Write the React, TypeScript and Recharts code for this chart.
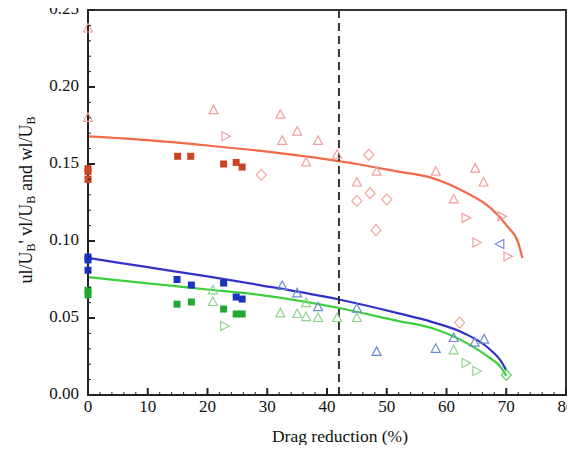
import { ComposedChart, Line, Scatter, XAxis, YAxis, ReferenceLine, ReferenceArea } from "recharts";

// fitted curves
const uFitX = [0, 10, 20, 30, 40, 45, 52, 57.5, 63, 67.5, 70.3, 72, 72.7];
const uFitY = [0.168, 0.1655, 0.162, 0.158, 0.153, 0.15, 0.145, 0.141, 0.132, 0.121, 0.109, 0.099, 0.089];
const vFitX = [0, 10, 20, 28.7, 42, 52, 57.5, 63, 67, 69.2, 70];
const vFitY = [0.089, 0.083, 0.077, 0.0714, 0.062, 0.053, 0.0475, 0.04, 0.0305, 0.0215, 0.016];
const wFitX = [0, 10, 20, 28.7, 42, 52, 57.5, 63, 67, 69.2, 70];
const wFitY = [0.0766, 0.0725, 0.0685, 0.065, 0.0565, 0.048, 0.0435, 0.0345, 0.0247, 0.0175, 0.0123];

// u' markers
const uSqX = [0, 0, 0, 15, 17.2, 22.7, 24.8, 25.8];
const uSqY = [0.147, 0.145, 0.14, 0.155, 0.155, 0.15, 0.151, 0.148];
const uTriX = [0, 0, 21, 32.2, 35, 32.5, 38.5, 36.5, 41.7, 45, 48.3, 58.2, 64.8, 66.2, 61.2];
const uTriY = [0.238, 0.18, 0.185, 0.182, 0.171, 0.165, 0.165, 0.151, 0.156, 0.138, 0.145, 0.145, 0.147, 0.138, 0.127];
const uDiaX = [29, 47, 45, 47.2, 50, 48.2, 62.2];
const uDiaY = [0.143, 0.156, 0.126, 0.131, 0.127, 0.107, 0.047];
const uRtX = [23, 63.2, 65, 70.2, 69.2];
const uRtY = [0.168, 0.115, 0.099, 0.09, 0.116];

// v' markers
const vSqX = [0, 0, 0, 14.9, 17.3, 22.7, 24.8, 25.8];
const vSqY = [0.0896, 0.0877, 0.081, 0.075, 0.0714, 0.0727, 0.0636, 0.0623];
const vTriX = [32.5, 35, 38.5, 45, 48.3, 58.2, 61.2, 66.3, 64.7];
const vTriY = [0.0708, 0.066, 0.057, 0.056, 0.028, 0.03, 0.037, 0.036, 0.034];
const vLtX = [69];
const vLtY = [0.098];

// w' markers
const wSqX = [0, 0, 14.9, 17.3, 22.7, 24.8, 25.8];
const wSqY = [0.068, 0.065, 0.059, 0.0604, 0.0558, 0.0526, 0.0526];
const wTriX = [20.9, 20.9, 32.2, 35, 36.5, 36.5, 38.5, 41.7, 45, 61.2];
const wTriY = [0.068, 0.0604, 0.053, 0.0526, 0.0506, 0.0597, 0.05, 0.05, 0.05, 0.029];
const wRtX = [22.8, 63.2, 65];
const wRtY = [0.0448, 0.0208, 0.0156];
const wDiaX = [70];
const wDiaY = [0.013];

const xMajor = [0, 10, 20, 30, 40, 50, 60, 70, 80];
const yMajor = ["0.00", "0.05", "0.10", "0.15", "0.20", "0.25"];

const xTicks = Array.from({ length: 41 }, (_, i) => i * 2);
const yTicks = Array.from({ length: 26 }, (_, i) => i / 100);

const zip = (xs: number[], ys: number[]) => xs.map((x, i) => ({ x, y: ys[i] }));

const SERIF = "'Liberation Serif', 'Times New Roman', serif";

// html text inside the svg (picks up the serif font reliably)
const html = (size: number, align: string) => ({
  fontFamily: SERIF,
  fontSize: size,
  lineHeight: "20px",
  color: "#111",
  textAlign: align as any,
  whiteSpace: "nowrap" as any,
  margin: 0,
});

const subStyle = { fontSize: 12, verticalAlign: "-3px", lineHeight: 0 };

const XTick = (props: any) => {
  const { x, y, payload } = props;
  const major = xMajor.includes(payload.value);
  return (
    <g>
      <line x1={x} y1={y} x2={x} y2={y - (major ? 7 : 3)} stroke="#222" strokeWidth={major ? 2 : 1} />
      {major && (
        <foreignObject x={x - 25} y={y + 2} width={50} height={22}>
          <div style={html(17, "center")}>{payload.value}</div>
        </foreignObject>
      )}
    </g>
  );
};

const YTick = (props: any) => {
  const { x, y, payload } = props;
  const label = payload.value.toFixed(2);
  const major = yMajor.includes(label);
  return (
    <g>
      <line x1={x} y1={y} x2={x + (major ? 7 : 3)} y2={y} stroke="#222" strokeWidth={major ? 2 : 1} />
      {major && (
        <foreignObject x={x - 70} y={y - 11} width={61} height={22}>
          <div style={html(17, "right")}>{label}</div>
        </foreignObject>
      )}
    </g>
  );
};

const YTitle = () => (
  <foreignObject x={33 - 150} y={183} width={300} height={24} transform="rotate(-90, 33, 200)">
    <div style={html(18, "center")}>
      ul/U<span style={subStyle}>B</span>' vl/U<span style={subStyle}>B</span> and wl/U<span style={subStyle}>B</span>
    </div>
  </foreignObject>
);

const XTitle = () => (
  <foreignObject x={240} y={426} width={200} height={24}>
    <div style={html(17.5, "center")}>Drag reduction (%)</div>
  </foreignObject>
);

const square = (color: string) => (p: any) => (
  <rect x={p.cx - 3.5} y={p.cy - 3.5} width={7} height={7} fill={color} />
);
const triUp = (color: string) => (p: any) => (
  <polygon points={`${p.cx},${p.cy - 5} ${p.cx - 4.5},${p.cy + 3.5} ${p.cx + 4.5},${p.cy + 3.5}`} fill="none" stroke={color} strokeWidth={1.2} />
);
const triRight = (color: string) => (p: any) => (
  <polygon points={`${p.cx + 5},${p.cy} ${p.cx - 3.5},${p.cy - 4.5} ${p.cx - 3.5},${p.cy + 4.5}`} fill="none" stroke={color} strokeWidth={1.2} />
);
const triLeft = (color: string) => (p: any) => (
  <polygon points={`${p.cx - 5},${p.cy} ${p.cx + 3.5},${p.cy - 4.5} ${p.cx + 3.5},${p.cy + 4.5}`} fill="none" stroke={color} strokeWidth={1.2} />
);
const diamond = (color: string) => (p: any) => (
  <polygon points={`${p.cx},${p.cy - 5.5} ${p.cx + 5},${p.cy} ${p.cx},${p.cy + 5.5} ${p.cx - 5},${p.cy}`} fill="none" stroke={color} strokeWidth={1.2} />
);

export default function App() {
  return (
    <div style={{ margin: -8, fontFamily: SERIF }}>
      <ComposedChart width={575} height={453} margin={{ top: 10, right: 9, bottom: 0, left: 0 }}>
        <XAxis
          type="number"
          dataKey="x"
          domain={[0, 80]}
          ticks={xTicks}
          interval={0}
          tickSize={0}
          tickMargin={0}
          tick={<XTick />}
          height={58}
          axisLine={{ stroke: "#222", strokeWidth: 2 }}
          label={<XTitle />}
        />
        <YAxis
          type="number"
          dataKey="y"
          domain={[0, 0.25]}
          ticks={yTicks}
          interval={0}
          tickSize={0}
          tickMargin={0}
          tick={<YTick />}
          width={88}
          axisLine={{ stroke: "#222", strokeWidth: 2 }}
          label={<YTitle />}
        />
        <ReferenceArea x1={0} x2={80} y1={0} y2={0.25} fill="none" stroke="#333" strokeWidth={2} />
        <Line data={zip(uFitX, uFitY)} dataKey="y" type="monotone" stroke="#f26a48" strokeWidth={2.2} dot={false} isAnimationActive={false} />
        <Line data={zip(vFitX, vFitY)} dataKey="y" type="monotone" stroke="#3232c8" strokeWidth={2.2} dot={false} isAnimationActive={false} />
        <Line data={zip(wFitX, wFitY)} dataKey="y" type="monotone" stroke="#3ccf3c" strokeWidth={2.2} dot={false} isAnimationActive={false} />
        <Scatter data={zip(uSqX, uSqY)} shape={square("#cc4422")} isAnimationActive={false} />
        <Scatter data={zip(uTriX, uTriY)} shape={triUp("#f2a0a0")} isAnimationActive={false} />
        <Scatter data={zip(uDiaX, uDiaY)} shape={diamond("#f2a8a0")} isAnimationActive={false} />
        <Scatter data={zip(uRtX, uRtY)} shape={triRight("#f2a0a0")} isAnimationActive={false} />
        <Scatter data={zip(vSqX, vSqY)} shape={square("#1a33c0")} isAnimationActive={false} />
        <Scatter data={zip(vTriX, vTriY)} shape={triUp("#6a8ad0")} isAnimationActive={false} />
        <Scatter data={zip(vLtX, vLtY)} shape={triLeft("#7a8ae0")} isAnimationActive={false} />
        <Scatter data={zip(wSqX, wSqY)} shape={square("#22a832")} isAnimationActive={false} />
        <Scatter data={zip(wTriX, wTriY)} shape={triUp("#8ed48e")} isAnimationActive={false} />
        <Scatter data={zip(wRtX, wRtY)} shape={triRight("#8ed48e")} isAnimationActive={false} />
        <Scatter data={zip(wDiaX, wDiaY)} shape={diamond("#5ad05a")} isAnimationActive={false} />
        <ReferenceLine x={42} stroke="#333" strokeWidth={2} strokeDasharray="8 5" />
      </ComposedChart>
    </div>
  );
}
